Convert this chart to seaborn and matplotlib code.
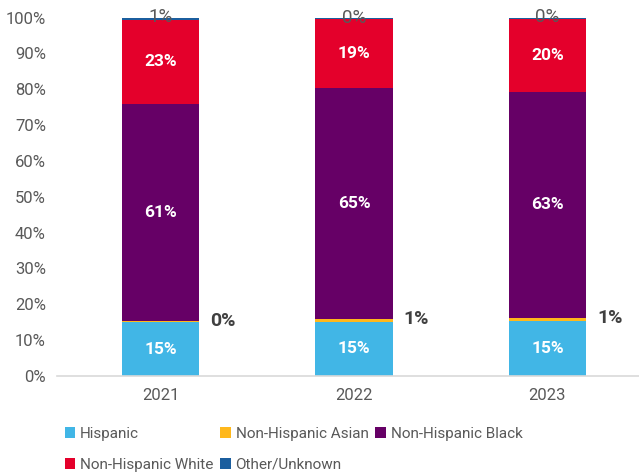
import numpy as np
import pandas as pd
import matplotlib.pyplot as plt
import seaborn as sns
from matplotlib.patches import Patch

# Values (shares in %)
years = ['2021', '2022', '2023']
groups = ['Hispanic', 'Non-Hispanic Asian', 'Non-Hispanic Black',
          'Non-Hispanic White', 'Other/Unknown']
hispanic = [15.0, 15.2, 15.4]
nh_asian = [0.4, 0.6, 0.7]
nh_black = [60.6, 64.6, 63.2]
nh_white = [23.4, 19.3, 20.4]
other = [0.6, 0.3, 0.3]
colors = ['#41B6E6', '#FFB81C', '#660066', '#E4002B', '#1B5E9E']

series = [hispanic, nh_asian, nh_black, nh_white, other]

sns.set_style('white')
plt.rcParams['font.family'] = ['Roboto', 'DejaVu Sans']

df = pd.DataFrame({'Year': years})
for name, vals in zip(groups, series):
    df[name] = vals
cum = df[groups].cumsum(axis=1)

fig = plt.figure(figsize=(6.39, 4.76), dpi=100)
ax = fig.add_axes([57 / 639, 100 / 476, 1 - 57 / 639, (376 - 17.5) / 476])

# stacked bars: draw cumulative totals from the top down
for name, color in reversed(list(zip(groups, colors))):
    sns.barplot(x=df['Year'], y=cum[name], color=color, width=0.398,
                ax=ax, saturation=1, linewidth=0)

ax.set_xlim(-0.535, 2.473)
ax.set_ylim(0, 100)
ax.set_yticks(np.arange(0, 101, 10))
ax.set_yticklabels([f'{v}%' for v in range(0, 101, 10)])
ax.set_xlabel('')
ax.set_ylabel('')
ax.tick_params(axis='both', colors='#595959', labelsize=12, length=0)
ax.tick_params(axis='x', pad=9)
ax.tick_params(axis='y', pad=8)
for s in ['left', 'right', 'top']:
    ax.spines[s].set_visible(False)
ax.spines['bottom'].set_color('#d9d9d9')
ax.spines['bottom'].set_linewidth(1.2)

# labels
for i in range(len(years)):
    for name in ['Hispanic', 'Non-Hispanic Black', 'Non-Hispanic White']:
        v = df.loc[i, name]
        mid = cum.loc[i, name] - v / 2
        ax.text(i, mid, f'{v:.0f}%', ha='center', va='center', color='white',
                fontsize=12.5, fontweight='bold')
    a = df.loc[i, 'Non-Hispanic Asian']
    ax.annotate(f'{a:.0f}%', (i + 0.199, cum.loc[i, 'Non-Hispanic Asian']),
                xytext=(8, 0), textcoords='offset points', ha='left', va='center',
                color='#404040', fontsize=14, fontweight='bold')
    o = df.loc[i, 'Other/Unknown']
    ax.text(i, cum.loc[i, 'Other/Unknown'], f'{o:.0f}%', ha='center', va='center',
            color='#595959', fontsize=13.5)

handles = [Patch(facecolor=c, edgecolor='none') for c in colors]
order = [0, 3, 1, 4, 2]
fig.legend([handles[k] for k in order], [groups[k] for k in order],
           loc='upper left', bbox_to_anchor=(51 / 639, 1 - 413 / 476), ncol=3,
           frameon=False, fontsize=11, labelcolor='#595959',
           handlelength=0.7, handleheight=0.7, handletextpad=0.3,
           columnspacing=0.45, labelspacing=1.1)

fig.savefig('out.png', dpi=100)
